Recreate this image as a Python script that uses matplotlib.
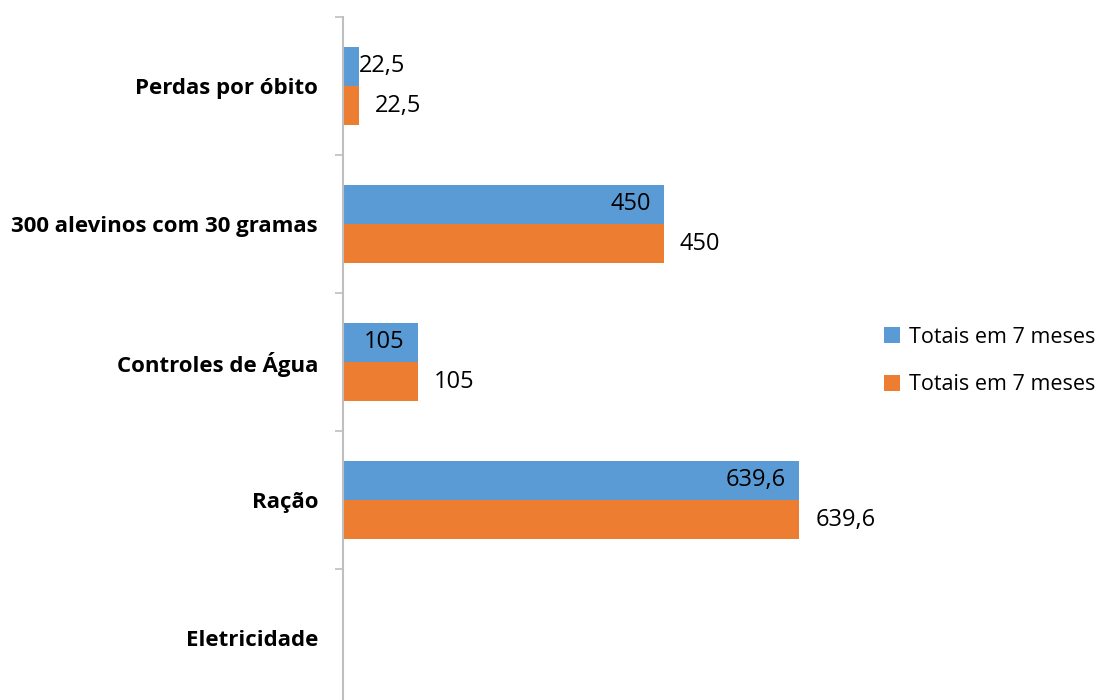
import matplotlib.pyplot as plt
import numpy as np

# dados
categorias = ["Perdas por óbito", "300 alevinos com 30 gramas", "Controles de Água",
              "Ração", "Eletricidade"]
serie_azul = [22.5, 450, 105, 639.6, np.nan]
serie_laranja = [22.5, 450, 105, 639.6, np.nan]
nome_serie = "Totais em 7 meses"

azul = "#5B9BD5"
laranja = "#ED7D31"

plt.rcParams['font.family'] = ['Open Sans', 'DejaVu Sans']

fig = plt.figure(figsize=(11.05, 7), dpi=100)
# eixo vai um pouco abaixo da figura (corte como no original)
ax = fig.add_axes([343 / 1105, -7 / 700, 520 / 1105, 690 / 700])

y = np.arange(len(categorias))
h = 0.283
b1 = ax.barh(y - h / 2, serie_azul, height=h, color=azul)
b2 = ax.barh(y + h / 2, serie_laranja, height=h, color=laranja)

xmax = 520 / 0.7133
ax.set_xlim(0, xmax)
ax.set_ylim(len(categorias) - 0.5, -0.5)


def fmt(v):
    return ("%g" % v).replace(".", ",")


px = xmax / 520  # unidades por pixel
fs = 17
for yi, v in zip(y, serie_azul):
    if np.isnan(v):
        continue
    if v * 0.7133 > 60:
        ax.text(v - 13 * px, yi - h / 2, fmt(v), ha="right", va="center", fontsize=fs)
    else:
        ax.text(v, yi - h / 2, fmt(v), ha="left", va="center", fontsize=fs)
for yi, v in zip(y, serie_laranja):
    if np.isnan(v):
        continue
    ax.text(v + 16 * px, yi + h / 2, fmt(v), ha="left", va="center", fontsize=fs)

ax.set_yticks(y)
ax.set_yticklabels(categorias, fontsize=16, fontweight="bold")
ax.set_yticks(np.arange(-0.5, len(categorias), 1), minor=True)
ax.tick_params(axis="y", which="major", length=0, pad=18)
ax.tick_params(axis="y", which="minor", length=6, color="#BFBFBF", width=1.2)
ax.set_xticks([])

for s in ["top", "right", "bottom"]:
    ax.spines[s].set_visible(False)
ax.spines["left"].set_color("#BFBFBF")
ax.spines["left"].set_linewidth(1.5)

fig.legend([b1, b2], [nome_serie, nome_serie], loc="center left",
           bbox_to_anchor=(884 / 1105, 1 - 361 / 700), frameon=False,
           borderpad=0, borderaxespad=0,
           fontsize=15.5, handlelength=0.75, handleheight=0.75, handletextpad=0.4,
           labelspacing=1.25)

fig.savefig("out.png", dpi=100)
